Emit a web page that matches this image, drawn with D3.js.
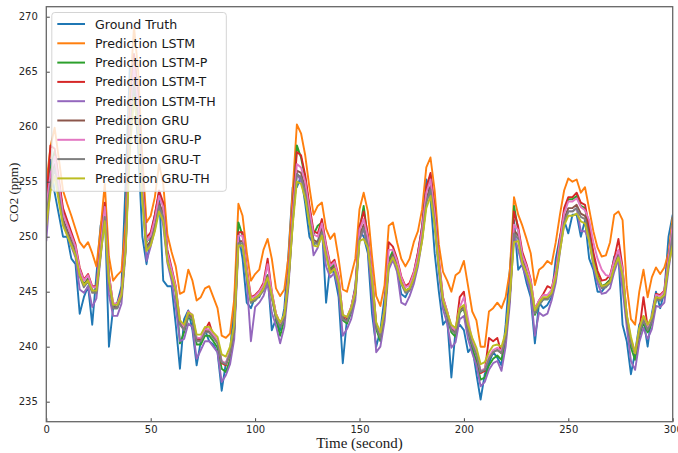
<!DOCTYPE html>
<html>
<head>
<meta charset="utf-8">
<script src="https://cdn.jsdelivr.net/npm/d3@7"></script>
<style>
  body { margin: 0; background: #fff; }
  svg { display: block; }
</style>
</head>
<body>
<div id="chart"></div>
<script>
// sample times, one every 2 seconds
const times = d3.range(0, 301, 2);

const groundTruth = [
  251.5, 257.0, 254.0, 252.0, 250.0, 250.0, 248.0, 247.5, 243.0, 244.5,
  245.5, 242.0, 246.5, 251.0, 252.5, 240.0, 243.5, 244.0, 245.5, 255.0,
  265.5, 264.0, 258.0, 250.0, 247.5, 250.0, 252.0, 254.0, 246.0, 245.5,
  245.5, 242.0, 238.0, 242.5, 243.3, 241.5, 238.3, 240.5, 241.5, 240.5,
  240.2, 239.5, 236.0, 238.5, 239.5, 244.0, 250.3, 248.0, 244.0, 243.5,
  244.5, 244.5, 245.5, 246.5, 241.5, 242.5, 241.5, 243.5, 248.5, 254.5,
  254.5, 255.5, 253.0, 250.0, 249.3, 249.5, 251.0, 244.0, 247.5, 246.5,
  244.5, 238.5, 242.5, 243.5, 245.5, 250.5, 250.0, 248.5, 243.0, 240.0,
  241.5, 244.5, 247.5, 248.0, 247.0, 244.8, 244.5, 245.3, 246.6, 248.5,
  251.0, 255.2, 253.5, 248.5, 245.0, 242.0, 242.5, 237.2, 241.5, 242.0,
  241.5, 239.5, 240.0, 237.5, 235.2, 237.5, 238.5, 239.5, 239.0, 238.3,
  242.0, 247.0, 251.5, 247.0, 247.5, 245.8, 244.5, 240.3, 244.0, 243.5,
  243.8, 244.5, 248.0, 250.0, 251.5, 250.3, 252.0, 252.0, 250.0, 251.5,
  248.0, 247.0, 245.0, 245.0, 245.5, 246.0, 248.2, 248.2, 242.0, 240.5,
  237.5, 239.5, 242.0, 242.5, 240.0, 243.0, 245.0, 243.5, 245.0, 250.0,
  252.0
];

const predLSTM = [
  254.8, 258.2, 259.9, 257.1, 254.2, 253.0, 251.9, 250.7, 249.5, 249.0,
  249.5, 248.5, 247.3, 250.7, 254.8, 248.2, 246.0, 246.5, 246.9, 251.3,
  262.8, 269.1, 265.1, 257.1, 251.3, 251.9, 253.6, 256.6, 254.8, 250.2,
  248.6, 247.3, 244.8, 245.0, 247.0, 246.0, 244.2, 244.5, 245.3, 245.5,
  244.5, 243.5, 241.0, 240.8, 241.2, 244.3, 253.0, 251.9, 248.6, 246.0,
  246.6, 247.0, 248.8, 249.8, 248.0, 245.3, 244.6, 245.2, 248.2, 254.2,
  260.2, 259.4, 257.4, 254.5, 252.0, 252.8, 253.1, 250.7, 249.8, 250.3,
  248.0, 245.2, 245.0, 246.5, 248.0, 252.5, 254.0, 252.3, 248.2, 244.6,
  243.7, 245.6, 251.0, 251.3, 249.5, 248.0, 247.3, 248.0, 249.5, 250.5,
  252.5, 256.3, 257.2, 254.2, 249.3, 246.8, 246.0, 245.0, 246.5, 246.8,
  247.8, 245.5, 243.2, 242.4, 240.0, 240.0, 243.2, 243.5, 244.0, 243.5,
  244.5, 246.9, 253.6, 252.0, 251.0, 249.8, 248.5, 245.6, 247.0, 247.3,
  247.8, 247.5, 249.5, 252.0, 254.2, 255.3, 255.0, 255.2, 254.0, 254.5,
  252.5, 250.5, 249.0, 248.2, 248.3, 249.5, 252.0, 252.3, 251.5, 245.5,
  242.5, 242.0, 245.0, 247.0, 244.5, 246.3, 247.2, 246.6, 247.2, 248.5,
  251.8
];

const predLSTMP = [
  252.8, 256.1, 257.8, 255.0, 252.3, 251.2, 250.1, 249.0, 246.8, 245.7,
  246.2, 245.1, 245.1, 249.0, 252.8, 246.2, 243.5, 243.5, 244.6, 249.5,
  260.5, 266.6, 262.7, 255.0, 249.5, 250.1, 251.7, 253.9, 252.8, 248.4,
  246.8, 245.1, 240.3, 241.3, 242.7, 242.4, 240.2, 240.2, 241.0, 241.0,
  240.5, 239.9, 238.0, 237.7, 238.8, 241.3, 251.3, 250.1, 246.8, 244.0,
  244.2, 244.7, 245.3, 246.5, 244.6, 242.5, 241.0, 242.4, 246.2, 252.3,
  258.3, 257.2, 255.3, 252.6, 250.2, 251.0, 251.3, 249.0, 247.1, 247.5,
  246.0, 242.4, 242.1, 243.1, 244.9, 250.6, 252.8, 249.8, 246.2, 241.6,
  240.5, 242.9, 247.9, 248.7, 247.6, 246.0, 245.1, 245.3, 246.4, 248.2,
  250.6, 254.2, 255.6, 252.3, 247.6, 244.0, 242.7, 241.3, 240.9, 243.1,
  243.5, 241.3, 239.8, 238.7, 237.0, 237.2, 238.3, 238.9, 239.2, 238.8,
  240.5, 244.6, 252.8, 250.6, 248.2, 247.1, 245.7, 242.9, 243.8, 244.3,
  244.3, 244.9, 246.5, 249.5, 252.3, 253.4, 253.4, 253.7, 252.8, 252.6,
  250.6, 248.2, 246.5, 245.5, 245.7, 246.1, 247.6, 248.7, 246.8, 242.4,
  239.9, 238.8, 240.9, 242.2, 241.3, 242.1, 244.3, 244.2, 244.7, 247.9,
  251.2
];

const predLSTMT = [
  253.1, 258.3, 258.0, 255.3, 252.6, 251.5, 250.4, 249.3, 247.2, 246.1,
  246.6, 245.5, 245.5, 249.3, 253.1, 246.6, 243.9, 243.9, 245.0, 249.9,
  260.7, 266.6, 262.8, 255.3, 249.9, 250.4, 252.0, 254.2, 253.1, 248.8,
  247.2, 245.5, 242.3, 241.8, 243.2, 242.8, 240.7, 240.7, 241.5, 242.2,
  241.0, 240.5, 238.5, 238.3, 239.4, 241.8, 250.4, 250.4, 247.2, 244.5,
  244.7, 245.1, 245.8, 248.0, 245.0, 243.0, 242.1, 242.8, 246.6, 252.6,
  257.7, 257.4, 255.6, 252.9, 250.5, 250.3, 251.6, 249.3, 247.5, 247.9,
  246.4, 242.8, 242.6, 243.6, 245.3, 250.9, 252.3, 250.2, 246.6, 242.1,
  241.0, 243.4, 249.5, 249.1, 248.0, 246.4, 245.5, 245.8, 246.8, 248.6,
  250.9, 254.5, 255.8, 252.6, 248.0, 244.5, 243.2, 241.8, 241.4, 244.5,
  245.0, 241.8, 240.4, 239.3, 237.6, 237.8, 240.8, 240.5, 240.8, 239.4,
  241.0, 245.0, 252.3, 250.9, 248.6, 247.5, 246.1, 243.4, 244.2, 244.8,
  245.5, 245.3, 246.9, 249.9, 252.6, 253.6, 253.6, 254.0, 253.1, 252.9,
  250.9, 248.6, 246.9, 246.0, 246.1, 246.5, 248.0, 249.8, 247.2, 242.8,
  240.5, 239.4, 241.4, 244.5, 241.8, 242.6, 244.8, 244.7, 245.1, 248.2,
  250.5
];

const predLSTMTH = [
  249.6, 254.9, 256.5, 253.9, 251.2, 250.2, 249.1, 248.1, 245.2, 244.9,
  245.5, 243.6, 244.4, 248.1, 251.8, 244.7, 242.8, 242.8, 243.9, 248.6,
  259.1, 264.9, 261.2, 253.9, 247.8, 249.1, 250.7, 252.8, 251.0, 247.6,
  246.0, 243.6, 240.5, 240.7, 242.1, 241.8, 238.9, 239.7, 240.5, 240.5,
  240.0, 239.5, 236.8, 237.4, 238.4, 240.7, 249.1, 249.1, 246.0, 240.5,
  243.6, 244.0, 244.6, 245.8, 243.1, 241.9, 240.3, 241.8, 245.5, 251.2,
  255.8, 255.0, 254.2, 251.5, 248.3, 249.0, 250.3, 247.3, 246.3, 246.7,
  245.2, 241.0, 241.6, 242.5, 244.2, 249.7, 250.7, 248.9, 244.7, 239.5,
  240.0, 242.3, 247.0, 247.9, 246.8, 244.0, 243.8, 244.6, 245.7, 247.3,
  249.7, 253.1, 254.4, 251.2, 246.8, 243.4, 242.1, 239.9, 240.4, 242.5,
  242.8, 240.7, 239.4, 238.3, 236.4, 236.8, 237.9, 238.5, 238.7, 237.8,
  240.0, 243.9, 250.2, 248.8, 247.3, 246.3, 244.9, 241.0, 243.1, 242.8,
  243.0, 244.2, 245.8, 248.6, 251.2, 252.3, 252.3, 252.6, 250.5, 250.5,
  249.7, 247.3, 245.8, 244.8, 244.9, 245.3, 246.8, 247.9, 245.2, 241.8,
  238.7, 237.9, 240.4, 241.7, 240.7, 241.6, 243.7, 243.6, 244.0, 247.0,
  249.5
];

const predGRU = [
  252.1, 255.1, 256.6, 254.1, 251.6, 250.6, 249.6, 248.6, 246.6, 245.6,
  246.1, 245.1, 245.1, 248.6, 252.1, 246.1, 243.6, 243.6, 244.6, 249.1,
  259.1, 264.6, 261.1, 254.1, 249.1, 249.6, 251.1, 253.1, 252.1, 248.1,
  246.6, 245.1, 242.1, 241.6, 242.9, 242.6, 240.6, 240.6, 241.4, 241.4,
  240.9, 240.4, 238.6, 238.4, 239.4, 241.6, 249.6, 249.6, 246.6, 244.1,
  244.3, 244.7, 245.3, 246.4, 244.6, 242.7, 241.9, 242.6, 246.1, 251.6,
  256.0, 255.8, 254.4, 251.9, 249.7, 249.5, 250.7, 248.6, 246.9, 247.3,
  245.9, 242.6, 242.4, 243.3, 244.9, 250.1, 251.1, 249.4, 246.1, 241.9,
  240.9, 243.1, 247.6, 248.4, 247.4, 245.9, 245.1, 245.3, 246.3, 247.9,
  250.1, 253.4, 254.6, 251.6, 247.4, 244.1, 242.9, 241.6, 241.3, 243.3,
  243.6, 241.6, 240.3, 239.3, 237.7, 237.9, 238.9, 239.5, 239.7, 239.4,
  240.9, 244.6, 250.6, 250.1, 247.9, 246.9, 245.6, 243.1, 243.9, 244.4,
  244.4, 244.9, 246.4, 249.1, 251.6, 252.6, 252.6, 252.9, 252.1, 251.9,
  250.1, 247.9, 246.4, 245.5, 245.6, 246.0, 247.4, 248.4, 246.6, 242.6,
  240.4, 239.4, 241.3, 242.5, 241.6, 242.4, 244.4, 244.3, 244.7, 247.6,
  250.6
];

const predGRUP = [
  252.7, 255.7, 257.3, 254.7, 252.1, 251.1, 250.1, 249.1, 247.0, 246.0,
  246.5, 245.4, 245.4, 249.1, 252.7, 246.5, 243.9, 243.9, 244.9, 249.6,
  259.9, 265.5, 261.9, 254.7, 249.6, 250.1, 251.6, 253.7, 252.7, 248.5,
  247.0, 245.4, 242.4, 241.8, 243.2, 242.9, 240.8, 240.8, 241.6, 241.6,
  241.1, 240.6, 238.7, 238.5, 239.6, 241.8, 250.1, 250.1, 247.0, 244.4,
  244.6, 245.0, 245.6, 247.5, 244.9, 243.0, 242.1, 242.9, 246.5, 252.1,
  256.6, 256.3, 255.0, 252.4, 250.2, 250.0, 251.2, 249.1, 247.3, 247.7,
  246.3, 242.9, 242.7, 243.6, 245.2, 250.6, 251.6, 249.9, 246.5, 242.1,
  241.1, 243.4, 248.8, 248.8, 247.8, 246.3, 245.4, 245.6, 246.7, 248.3,
  250.6, 254.0, 255.2, 252.1, 247.8, 244.4, 243.2, 241.8, 241.5, 243.6,
  244.5, 242.5, 240.5, 239.5, 237.8, 238.0, 239.1, 239.7, 239.9, 239.6,
  241.1, 244.9, 251.1, 250.6, 248.3, 247.3, 246.0, 243.4, 244.2, 244.7,
  244.7, 245.2, 246.8, 249.6, 252.1, 253.2, 253.2, 253.5, 252.7, 252.4,
  251.5, 249.5, 248.0, 247.0, 246.5, 246.4, 247.8, 248.8, 247.0, 242.9,
  240.6, 239.6, 241.5, 242.8, 241.8, 242.7, 244.7, 244.6, 245.0, 248.0,
  251.1
];

const predGRUT = [
  251.8, 254.7, 256.2, 253.8, 251.3, 250.3, 249.4, 248.4, 246.4, 245.4,
  245.9, 244.9, 244.9, 248.4, 251.8, 245.9, 243.5, 243.5, 244.5, 248.9,
  258.7, 264.1, 260.6, 253.8, 248.9, 249.4, 250.8, 252.8, 251.8, 247.9,
  246.4, 244.9, 242.0, 241.5, 242.8, 242.5, 240.5, 240.5, 241.3, 241.3,
  240.8, 240.3, 238.6, 238.4, 239.4, 241.5, 249.4, 249.4, 246.4, 244.0,
  244.2, 244.6, 245.1, 246.2, 244.5, 242.6, 241.8, 242.5, 245.9, 251.3,
  255.7, 255.4, 254.1, 251.6, 249.5, 249.3, 250.4, 248.4, 246.7, 247.1,
  245.7, 242.5, 242.3, 243.2, 244.7, 249.8, 250.8, 249.2, 245.9, 241.8,
  240.8, 243.0, 247.4, 248.2, 247.2, 245.7, 244.9, 245.1, 246.1, 247.7,
  249.8, 253.1, 254.3, 251.3, 247.2, 244.0, 242.8, 241.5, 241.2, 243.2,
  243.5, 241.5, 240.2, 239.3, 237.7, 237.9, 238.9, 239.5, 239.7, 239.4,
  240.8, 244.5, 250.3, 249.8, 247.7, 246.7, 245.4, 243.0, 243.8, 244.3,
  244.3, 244.7, 246.2, 248.9, 251.3, 252.3, 252.3, 252.6, 251.8, 251.6,
  249.8, 247.7, 246.2, 245.3, 245.4, 245.8, 247.2, 248.2, 246.4, 242.5,
  240.3, 239.4, 241.2, 242.4, 241.5, 242.3, 244.3, 244.2, 244.6, 247.4,
  250.3
];

const predGRUTH = [
  251.0, 254.1, 255.5, 253.2, 251.0, 250.1, 249.2, 248.3, 246.5, 245.6,
  246.0, 245.1, 245.1, 248.3, 251.4, 246.0, 243.8, 243.8, 244.7, 248.7,
  257.7, 262.7, 259.5, 253.2, 248.7, 249.2, 250.5, 252.3, 251.4, 247.8,
  246.5, 245.1, 242.4, 242.0, 243.1, 242.9, 241.1, 241.1, 241.8, 241.8,
  241.3, 240.9, 239.3, 239.1, 240.0, 242.0, 249.2, 249.2, 246.5, 244.2,
  244.4, 244.7, 245.3, 246.3, 244.7, 242.9, 242.2, 242.9, 246.0, 251.0,
  255.0, 254.8, 253.5, 251.2, 249.2, 249.1, 250.1, 248.3, 246.7, 247.1,
  245.8, 242.9, 242.7, 243.5, 244.9, 249.6, 249.8, 249.0, 246.0, 242.2,
  241.3, 243.3, 247.4, 248.1, 247.2, 245.8, 245.1, 245.3, 246.2, 247.6,
  249.6, 252.6, 253.7, 251.0, 247.2, 244.2, 243.1, 242.0, 241.7, 243.5,
  243.8, 242.0, 240.8, 239.9, 238.4, 238.6, 239.5, 240.1, 240.2, 240.0,
  241.3, 244.7, 249.5, 249.6, 247.6, 246.7, 245.6, 243.3, 244.0, 244.5,
  244.5, 244.9, 246.3, 248.7, 251.0, 251.9, 251.9, 252.1, 251.4, 251.2,
  249.6, 247.6, 246.3, 245.5, 245.6, 245.9, 247.2, 248.1, 246.5, 242.9,
  240.9, 239.4, 241.7, 242.8, 242.0, 242.7, 244.5, 244.4, 244.7, 247.4,
  249.2
];

const seriesNames = [
  "Ground Truth", "Prediction LSTM", "Prediction LSTM-P", "Prediction LSTM-T",
  "Prediction LSTM-TH", "Prediction GRU", "Prediction GRU-P", "Prediction GRU-T",
  "Prediction GRU-TH"
];
const seriesColors = [
  "#1f77b4", "#ff7f0e", "#2ca02c", "#d62728", "#9467bd",
  "#8c564b", "#e377c2", "#7f7f7f", "#bcbd22"
];
const xTicks = [0, 50, 100, 150, 200, 250, 300];
const yTicks = [235, 240, 245, 250, 255, 260, 265, 270];

const allSeries = [
  groundTruth, predLSTM, predLSTMP, predLSTMT, predLSTMTH,
  predGRU, predGRUP, predGRUT, predGRUTH
];

const width = 678;
const height = 453;
const plot = { left: 46.3, right: 672.7, top: 6.7, bottom: 421.7 };

const svg = d3
  .select("#chart")
  .append("svg")
  .attr("width", width)
  .attr("height", height);

const x = d3.scaleLinear().domain([0, 300]).range([plot.left, plot.right]);
const y = d3.scaleLinear().domain([233.18, 270.91]).range([plot.bottom, plot.top]);

svg.append("clipPath")
  .attr("id", "clip")
  .append("rect")
  .attr("x", plot.left)
  .attr("y", plot.top)
  .attr("width", plot.right - plot.left)
  .attr("height", plot.bottom - plot.top);

// lines, drawn in legend order so GRU-TH ends on top
const line = d3
  .line()
  .x((d, i) => x(times[i]))
  .y((d) => y(d));

svg.append("g")
  .attr("clip-path", "url(#clip)")
  .selectAll("path")
  .data(allSeries)
  .enter()
  .append("path")
  .attr("d", line)
  .attr("fill", "none")
  .attr("stroke", (d, i) => seriesColors[i])
  .attr("stroke-width", 1.9)
  .attr("stroke-linejoin", "round");

// axes with inward ticks
const xAxis = svg.append("g")
  .attr("transform", `translate(0,${plot.bottom})`)
  .call(d3.axisBottom(x).tickValues(xTicks).tickSize(-3.5).tickPadding(4).tickFormat(d3.format("d")));

const yAxis = svg.append("g")
  .attr("transform", `translate(${plot.left},0)`)
  .call(d3.axisLeft(y).tickValues(yTicks).tickSize(-3.5).tickPadding(8.5).tickFormat(d3.format("d")));

[xAxis, yAxis].forEach((g) => {
  g.select(".domain").remove();
  g.selectAll(".tick line").attr("stroke", "#444").attr("stroke-width", 1);
  g.selectAll(".tick text")
    .attr("fill", "#262626")
    .style("font-family", "'DejaVu Sans', sans-serif")
    .style("font-size", "10px");
});

// frame
svg.append("rect")
  .attr("x", plot.left)
  .attr("y", plot.top)
  .attr("width", plot.right - plot.left)
  .attr("height", plot.bottom - plot.top)
  .attr("fill", "none")
  .attr("stroke", "#666")
  .attr("stroke-width", 1.3);

// axis labels
svg.append("text")
  .attr("x", (plot.left + plot.right) / 2)
  .attr("y", 448)
  .attr("text-anchor", "middle")
  .style("font-family", "'Liberation Serif', 'DejaVu Serif', serif")
  .style("font-size", "15px")
  .attr("fill", "#1a1a1a")
  .text("Time (second)");

svg.append("text")
  .attr("transform", "translate(18,192.5) rotate(-90)")
  .attr("text-anchor", "middle")
  .style("font-family", "'Liberation Serif', 'DejaVu Serif', serif")
  .style("font-size", "13px")
  .attr("fill", "#1a1a1a")
  .text("CO2 (ppm)");

// legend
const legend = svg.append("g");

legend.append("rect")
  .attr("x", 51.8)
  .attr("y", 12.5)
  .attr("width", 174.5)
  .attr("height", 178.8)
  .attr("rx", 3)
  .attr("fill", "#fff")
  .attr("fill-opacity", 0.8)
  .attr("stroke", "#d4d4d4")
  .attr("stroke-width", 1);

const item = legend
  .selectAll(".item")
  .data(seriesNames)
  .enter()
  .append("g")
  .attr("class", "item")
  .attr("transform", (d, i) => `translate(0,${24 + i * 19.3})`);

item.append("line")
  .attr("x1", 57.3)
  .attr("x2", 85)
  .attr("stroke", (d, i) => seriesColors[i])
  .attr("stroke-width", 2);

item.append("text")
  .attr("x", 95)
  .attr("dy", "0.36em")
  .style("font-family", "'DejaVu Sans', sans-serif")
  .style("font-size", "12.6px")
  .attr("fill", "#1a1a1a")
  .text((d) => d);
</script>
</body>
</html>
